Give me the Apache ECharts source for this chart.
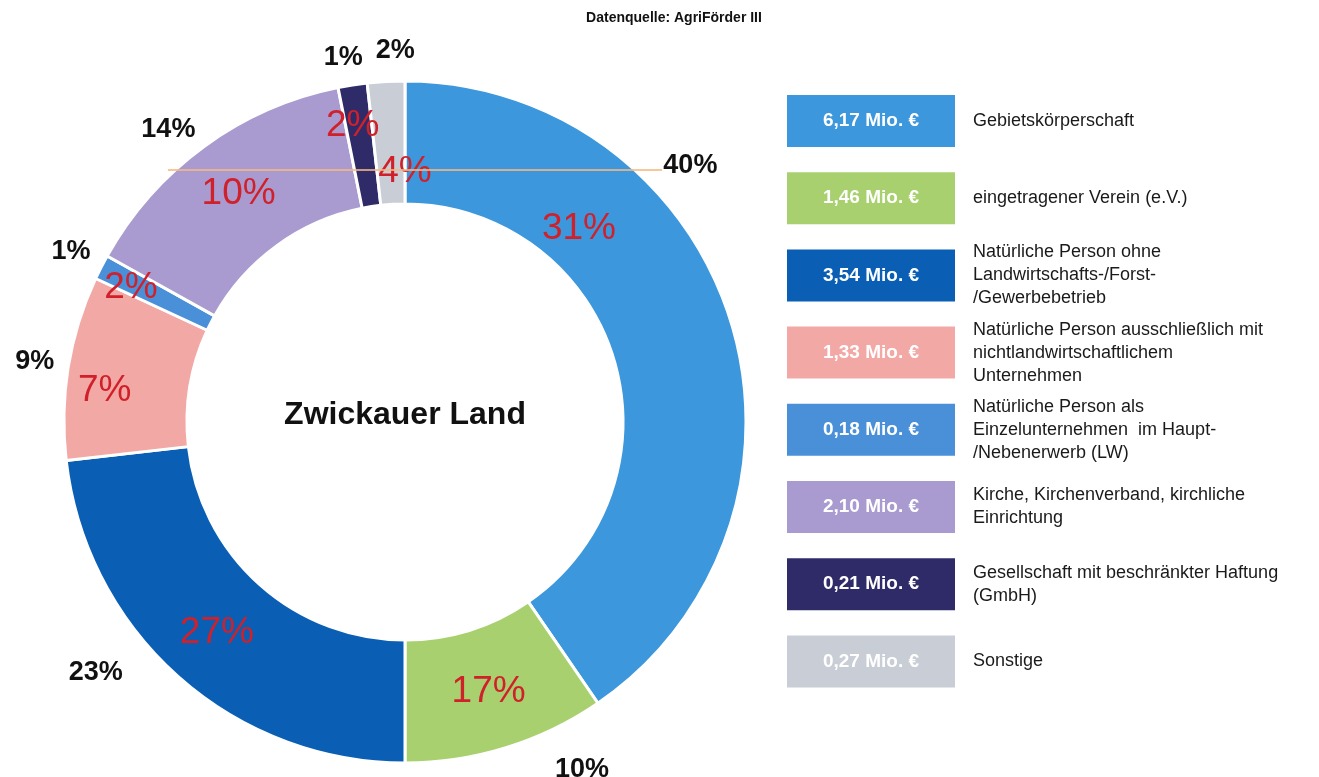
<!DOCTYPE html>
<html>
<head>
<meta charset="utf-8">
<script src="https://cdn.jsdelivr.net/npm/echarts@6/dist/echarts.min.js"></script>
<style>
  html, body { margin: 0; padding: 0; background: #fff; }
  #chart { width: 1319px; height: 777px; }
</style>
</head>
<body>
<div id="chart"></div>
<script>
  // Fördersumme je Antragstellertyp (Mio. €)
  const categories = [
    'Gebietskörperschaft',
    'eingetragener Verein (e.V.)',
    'Natürliche Person ohne\nLandwirtschafts-/Forst-\n/Gewerbebetrieb',
    'Natürliche Person ausschließlich mit\nnichtlandwirtschaftlichem\nUnternehmen',
    'Natürliche Person als\nEinzelunternehmen  im Haupt-\n/Nebenerwerb (LW)',
    'Kirche, Kirchenverband, kirchliche\nEinrichtung',
    'Gesellschaft mit beschränkter Haftung\n(GmbH)',
    'Sonstige'
  ];
  const valuesMio = [6.17, 1.46, 3.54, 1.33, 0.18, 2.10, 0.21, 0.27];
  // rote Prozentwerte, die im Ring stehen (aus einer anderen Auswertung)
  const innerLabels = ['31%', '17%', '27%', '7%', '2%', '10%', '2%', '4%'];
  const colors = ['#3c97dc', '#a8d06f', '#0a5fb5', '#f2a9a5', '#4a90d8', '#a99bcf', '#2f2b69', '#c9ced6'];

  const CX = 405, CY = 422; // Mittelpunkt des Rings

  // Winkel im Uhrzeigersinn ab 12 Uhr -> Pixel
  function polar(deg, r) {
    const a = deg * Math.PI / 180;
    return { x: CX + r * Math.sin(a), y: CY - r * Math.cos(a) };
  }

  // Labels, die nicht auf der Segmentmitte sitzen
  const innerAt = { 0: [42, 260], 3: [276, 302], 4: [296, 305], 6: [350, 301], 7: [0, 250] };
  const outerAt = { 0: [48, 384], 1: [153, 390], 2: [231, 398], 5: [321, 376], 6: [350.4, 370], 7: [358.5, 372] };

  const fmtMio = (v) => v.toFixed(2).replace('.', ',') + ' Mio. €';

  const pieData = valuesMio.map((v, i) => ({
    name: categories[i],
    value: v,
    itemStyle: { color: colors[i] }
  }));

  // Legende als Kästen mit Betrag + Beschreibung
  const legendTop = 95, legendStep = 77.2, boxH = 52;
  const legendGraphics = [];
  categories.forEach((name, i) => {
    const y = legendTop + i * legendStep;
    legendGraphics.push({
      type: 'rect',
      shape: { x: 787, y: y, width: 168, height: boxH },
      style: { fill: colors[i] }
    });
    legendGraphics.push({
      type: 'text',
      x: 871, y: y + boxH / 2,
      style: {
        text: fmtMio(valuesMio[i]),
        fill: '#fff',
        font: 'bold 19px "Liberation Sans", Arial, sans-serif',
        textAlign: 'center',
        textVerticalAlign: 'middle'
      }
    });
    legendGraphics.push({
      type: 'text',
      x: 973, y: y + boxH / 2,
      style: {
        text: name,
        fill: '#1a1a1a',
        font: '18px "Liberation Sans", Arial, sans-serif',
        lineHeight: 23,
        textAlign: 'left',
        textVerticalAlign: 'middle'
      }
    });
  });

  const chart = echarts.init(document.getElementById('chart'));
  chart.setOption({
    animation: false,
    backgroundColor: '#fff',
    series: [
      {
        name: 'Förderung',
        type: 'pie',
        center: [CX, CY],
        radius: [218, 341],
        startAngle: 90,
        clockwise: true,
        silent: true,
        data: pieData,
        itemStyle: { borderColor: '#fff', borderWidth: 3 },
        label: {
          show: true,
          position: 'inside',
          formatter: (p) => innerLabels[p.dataIndex],
          color: '#d0202a',
          fontSize: 37,
          fontFamily: '"Liberation Sans", Arial, sans-serif'
        },
        labelLine: { show: false },
        labelLayout: (p) => {
          const o = innerAt[p.dataIndex];
          if (!o) return {};
          return polar(o[0], o[1]);
        }
      },
      {
        // unsichtbarer Außenring nur für die schwarzen Anteile
        name: 'Anteil',
        type: 'pie',
        center: [CX, CY],
        radius: [352, 392],
        startAngle: 90,
        clockwise: true,
        silent: true,
        data: valuesMio.map((v, i) => ({ name: categories[i], value: v })),
        itemStyle: { color: 'rgba(0,0,0,0)' },
        label: {
          show: true,
          position: 'inside',
          formatter: (p) => Math.round(p.percent) + '%',
          color: '#111',
          fontSize: 27,
          fontWeight: 'bold',
          fontFamily: '"Liberation Sans", Arial, sans-serif'
        },
        labelLine: { show: false },
        labelLayout: (p) => {
          const o = outerAt[p.dataIndex];
          if (!o) return {};
          return polar(o[0], o[1]);
        }
      }
    ],
    graphic: [
      {
        type: 'text',
        x: 674, y: 18,
        style: {
          text: 'Datenquelle: AgriFörder III',
          fill: '#111',
          font: 'bold 14px "Liberation Sans", Arial, sans-serif',
          textAlign: 'center',
          textVerticalAlign: 'middle'
        }
      },
      {
        type: 'text',
        x: CX, y: 415,
        style: {
          text: 'Zwickauer Land',
          fill: '#111',
          font: 'bold 32px "Liberation Sans", Arial, sans-serif',
          textAlign: 'center',
          textVerticalAlign: 'middle'
        }
      },
      {
        // Scanstreifen quer über dem Ring
        type: 'line',
        z: 100,
        shape: { x1: 168, y1: 170, x2: 662, y2: 170 },
        style: { stroke: 'rgba(245,185,130,0.8)', lineWidth: 2 }
      }
    ].concat(legendGraphics)
  });
</script>
</body>
</html>
